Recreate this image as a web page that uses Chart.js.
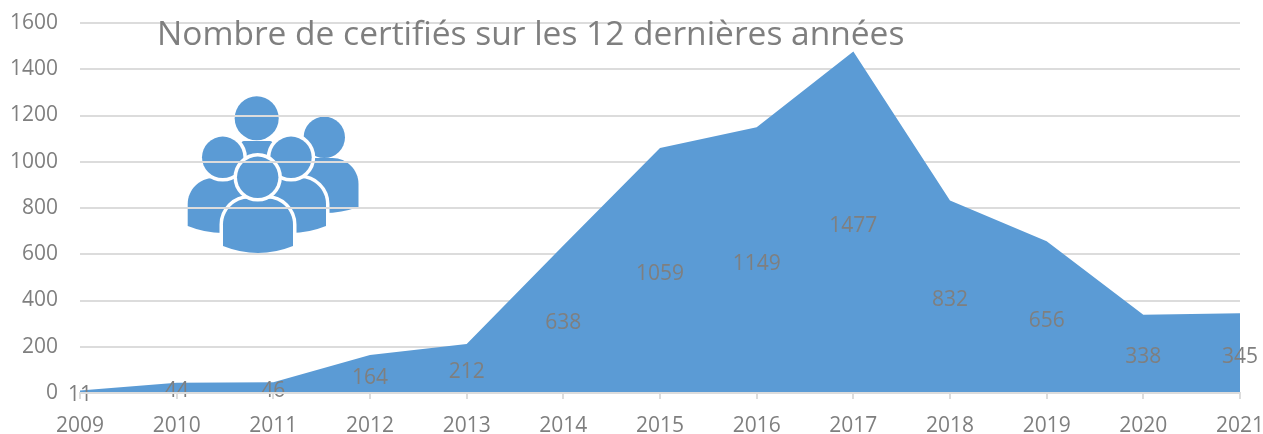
<!DOCTYPE html>
<html>
<head>
<meta charset="UTF-8">
<title>Nombre de certifiés</title>
<script src="https://cdnjs.cloudflare.com/ajax/libs/Chart.js/4.4.1/chart.umd.min.js"></script>
<style>
  html, body { margin: 0; padding: 0; background: #fff; overflow: hidden; }
  canvas { display: block; }
</style>
</head>
<body>
<canvas id="canvas" width="1263" height="434"></canvas>
<script>
const years = ['2009','2010','2011','2012','2013','2014','2015','2016','2017','2018','2019','2020','2021'];
const certifies = [11,44,46,164,212,638,1059,1149,1477,832,656,338,345];
const chartTitle = 'Nombre de certifiés sur les 12 dernières années';

const BLUE = '#5b9bd5';
const GREY = '#7f7f7f';
const FONT = '"Open Sans", sans-serif';

// one person of the icon: head + shoulders
function person(ctx, hx, hy, r, cx, top, w, side, bottom, corner, ring) {
	const k = corner * 0.45;
	ctx.beginPath();
	ctx.moveTo(cx - w, side);
	ctx.lineTo(cx - w, top + corner);
	ctx.bezierCurveTo(cx - w, top + k, cx - w + k, top, cx - w + corner, top);
	ctx.lineTo(cx + w - corner, top);
	ctx.bezierCurveTo(cx + w - k, top, cx + w, top + k, cx + w, top + corner);
	ctx.lineTo(cx + w, side);
	ctx.quadraticCurveTo(cx, bottom + (bottom - side), cx - w, side);
	ctx.closePath();
	ctx.fillStyle = BLUE;
	if (ring) {
		ctx.strokeStyle = '#fff';
		ctx.lineWidth = 7;
		ctx.stroke();
	}
	ctx.fill();
	ctx.beginPath();
	ctx.arc(hx, hy, r, 0, Math.PI * 2);
	if (ring) {
		ctx.strokeStyle = '#fff';
		ctx.lineWidth = 7;
		ctx.stroke();
	}
	ctx.fill();
}

const iconPlugin = {
	id: 'icon',
	beforeDraw(chart) { // before the grid, the grid lines run over the icon
		const ctx = chart.ctx;
		ctx.save();
		person(ctx, 324.3, 137.3, 20.7, 324, 158, 34.5, 207, 213, 26, false);
		person(ctx, 256.7, 118.3, 22, 257, 141, 16, 190, 195, 3, false);
		person(ctx, 222.7, 157.3, 20.7, 222.7, 178, 35, 226, 233, 26, true);
		person(ctx, 291, 157.3, 20.7, 291, 178, 35, 226, 233, 26, true);
		person(ctx, 257.7, 177.3, 20.7, 258, 198.5, 35, 246, 253, 26, true);
		ctx.restore();
	}
};

// labels sit at the middle of the area, and the title sits over the plot
const labelPlugin = {
	id: 'labels',
	afterDatasetsDraw(chart) {
		const ctx = chart.ctx;
		const x = chart.scales.x, y = chart.scales.y;
		ctx.save();
		ctx.fillStyle = GREY;
		ctx.font = '21px ' + FONT;
		ctx.textAlign = 'center';
		ctx.textBaseline = 'middle';
		certifies.forEach(function(v, i) {
			ctx.fillText(String(v), x.getPixelForValue(i), y.getPixelForValue(v / 2) + 3.5);
		});
		ctx.font = '33.5px ' + FONT;
		ctx.textAlign = 'left';
		ctx.fillText(chartTitle, 157, 35);
		ctx.restore();
	}
};

new Chart(document.getElementById('canvas'), {
	type: 'line',
	data: {
		labels: years,
		datasets: [{
			data: certifies,
			fill: 'origin',
			backgroundColor: BLUE,
			borderWidth: 0,
			tension: 0,
			pointRadius: 0
		}]
	},
	options: {
		responsive: false,
		animation: false,
		layout: { autoPadding: false, padding: { top: 23, right: 23, left: 0, bottom: 0 } },
		plugins: { legend: { display: false }, title: { display: false }, tooltip: { enabled: false } },
		scales: {
			x: {
				offset: false,
				afterFit(s) { s.height = 41; s.paddingLeft = 0; s.paddingRight = 0; },
				grid: { drawOnChartArea: false, color: '#dcdcdc', lineWidth: 2, tickLength: 6 },
				border: { color: '#dcdcdc', width: 2, z: 1 },
				ticks: { color: GREY, font: { family: FONT, size: 21 }, padding: 14, maxRotation: 0, autoSkip: false }
			},
			y: {
				min: 0,
				max: 1600,
				afterFit(s) { s.width = 80; s.paddingTop = 0; s.paddingBottom = 0; },
				grid: { color: '#dcdcdc', lineWidth: 2, drawTicks: false },
				border: { display: false },
				ticks: { stepSize: 200, color: GREY, font: { family: FONT, size: 21 }, padding: 22, callback: function(v) { return String(v); } }
			}
		}
	},
	plugins: [iconPlugin, labelPlugin]
});
</script>
</body>
</html>
